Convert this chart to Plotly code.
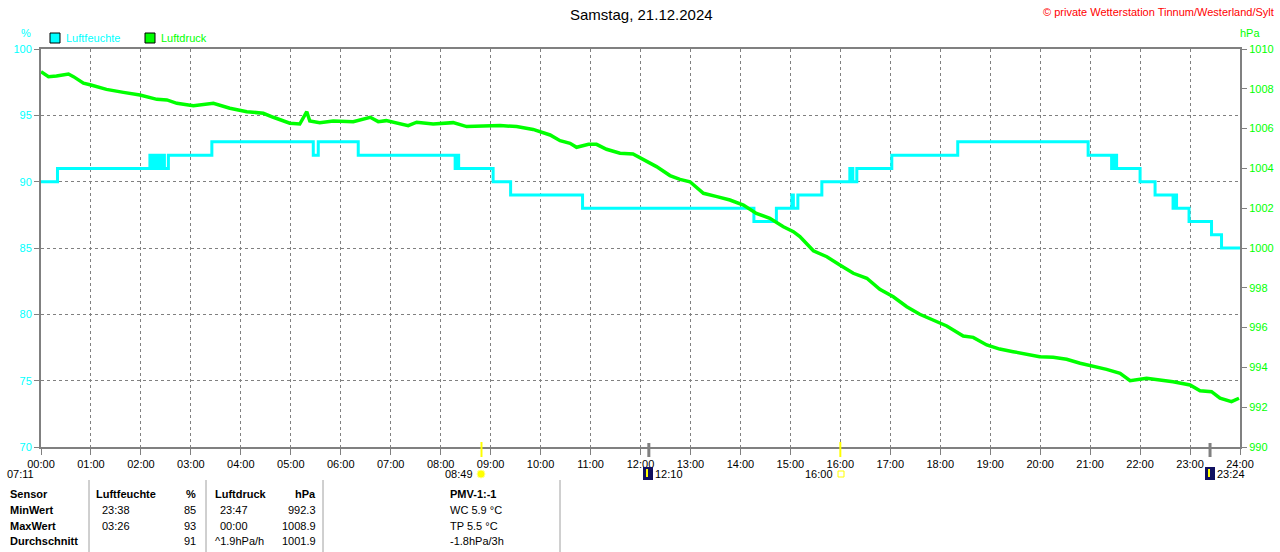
import plotly.graph_objects as go

# --- data ---
hum_hours = [0, 0.33, 2.18, 2.22, 2.26, 2.31, 2.35, 2.40, 2.44, 2.47, 2.55, 3.42, 5.45, 5.55,
             6.35, 8.29, 8.32, 8.36, 9.05, 9.40, 10.84, 14.27, 14.72, 15.03, 15.06, 15.15,
             15.63, 16.19, 16.25, 16.33, 17.03, 18.35, 20.96, 21.43, 21.47, 21.53, 22.00,
             22.30, 22.66, 22.70, 22.73, 22.98, 23.43, 23.63, 24.0]
hum_values = [90, 91, 92, 91, 92, 91, 92, 91, 92, 91, 92, 93, 92, 93,
              92, 91, 92, 91, 90, 89, 88, 87, 88, 89, 88, 89,
              90, 91, 90, 91, 92, 93, 92, 91, 92, 91, 90,
              89, 88, 89, 88, 87, 86, 85, 85]

press_hours = [0.0, 0.15, 0.31, 0.55, 0.65, 0.85, 1.0, 1.31, 1.65, 1.98, 2.32, 2.52, 2.72,
               3.05, 3.45, 3.78, 4.12, 4.45, 4.65, 4.98, 5.18, 5.32, 5.38, 5.58, 5.85,
               6.25, 6.59, 6.75, 6.91, 7.35, 7.52, 7.85, 8.25, 8.52, 8.85, 9.19, 9.52,
               9.85, 10.19, 10.39, 10.59, 10.72, 10.96, 11.12, 11.32, 11.59, 11.85, 12.05,
               12.32, 12.59, 12.79, 12.99, 13.26, 13.53, 13.79, 14.06, 14.32, 14.59,
               14.86, 15.06, 15.19, 15.46, 15.73, 15.99, 16.26, 16.53, 16.79, 17.06,
               17.33, 17.59, 17.86, 18.13, 18.46, 18.66, 18.93, 19.19, 19.46, 19.73,
               19.99, 20.26, 20.53, 20.80, 21.06, 21.33, 21.60, 21.80, 22.13, 22.40,
               22.66, 23.00, 23.20, 23.43, 23.60, 23.83, 23.98]
press_values = [1008.86, 1008.61, 1008.64, 1008.74, 1008.61, 1008.28, 1008.19, 1007.97, 1007.82,
                1007.69, 1007.47, 1007.44, 1007.27, 1007.15, 1007.27, 1007.02, 1006.85,
                1006.77, 1006.57, 1006.27, 1006.23, 1006.85, 1006.38, 1006.30, 1006.38,
                1006.35, 1006.57, 1006.35, 1006.40, 1006.15, 1006.32, 1006.23, 1006.30,
                1006.10, 1006.13, 1006.15, 1006.10, 1005.96, 1005.68, 1005.39, 1005.26,
                1005.06, 1005.21, 1005.21, 1004.96, 1004.76, 1004.72, 1004.46, 1004.09,
                1003.64, 1003.45, 1003.33, 1002.75, 1002.58, 1002.41, 1002.16, 1001.74,
                1001.49, 1001.07, 1000.82, 1000.57, 999.86, 999.56, 999.15, 998.73,
                998.48, 997.92, 997.55, 997.05, 996.67, 996.38, 996.08, 995.58, 995.51,
                995.13, 994.92, 994.79, 994.67, 994.54, 994.51, 994.41, 994.21, 994.07,
                993.90, 993.70, 993.33, 993.45, 993.37, 993.28, 993.12, 992.83, 992.78,
                992.45, 992.28, 992.45]

hour_labels = ["%02d:00" % h for h in range(25)]
hum_ticks = [70, 75, 80, 85, 90, 95, 100]
press_ticks = [990, 992, 994, 996, 998, 1000, 1002, 1004, 1006, 1008, 1010]

sun_events = [8.817, 16.0]        # yellow markers
moon_events = [12.167, 23.4]      # gray markers

table_rows = [
    ["Sensor", "Luftfeuchte", "%", "Luftdruck", "hPa", "PMV-1:-1"],
    ["MinWert", "23:38", "85", "23:47", "992.3", "WC 5.9 °C"],
    ["MaxWert", "03:26", "93", "00:00", "1008.9", "TP 5.5 °C"],
    ["Durchschnitt", "", "91", "^1.9hPa/h", "1001.9", "-1.8hPa/3h"],
]

CYAN = "#00FFFF"
GREEN = "#00FF00"
GRAY = "#808080"
FONT = "Liberation Sans"

# plot area in page pixels: x 41..1240, y 49..447
def px(x):
    return (x - 41) / 1199.0

def py(y):
    return (447 - y) / 398.0

fig = go.Figure()
fig.add_trace(go.Scatter(x=hum_hours, y=hum_values, mode="lines", line_shape="hv",
                         line=dict(color=CYAN, width=3), name="Luftfeuchte"))
fig.add_trace(go.Scatter(x=press_hours, y=press_values, mode="lines", yaxis="y2",
                         line=dict(color=GREEN, width=3.5), name="Luftdruck"))

shapes = []
annotations = []

def text(x, y, s, color="black", size=11, xanchor="left", bold=False):
    if bold:
        s = "<b>%s</b>" % s
    annotations.append(dict(x=px(x), y=py(y), xref="paper", yref="paper", text=s,
                            showarrow=False, xanchor=xanchor, yanchor="middle",
                            font=dict(family=FONT, size=size, color=color)))

# title, copyright, units
text(641, 15, "Samstag, 21.12.2024", size=15, xanchor="center")
text(1276, 12, "© private Wetterstation Tinnum/Westerland/Sylt", color="red", xanchor="right")
text(26, 33, "%", color=CYAN, xanchor="center")
text(1250, 33, "hPa", color=GREEN, xanchor="center")

# legend
for x0, col, label in [(50, CYAN, "Luftfeuchte"), (145, GREEN, "Luftdruck")]:
    shapes.append(dict(type="rect", xref="paper", yref="paper", x0=px(x0), x1=px(x0 + 10),
                       y0=py(43), y1=py(33), fillcolor=col, line=dict(color="black", width=1)))
    text(x0 + 14, 38, label, color=col)

# sun / moon markers on the time axis
for t in sun_events:
    shapes.append(dict(type="line", xref="x", yref="paper", x0=t, x1=t, y0=py(442), y1=py(457),
                       line=dict(color="#FFFF00", width=2)))
for t in moon_events:
    shapes.append(dict(type="line", xref="x", yref="paper", x0=t, x1=t, y0=py(443), y1=py(457),
                       line=dict(color=GRAY, width=3)))

# event labels below the axis
text(36, 474, "07:11", xanchor="right")
shapes.append(dict(type="path", xref="paper", yref="paper",
                   path="M %f %f A 1 1 0 0 1 %f %f Z" % (px(40), py(477), px(49), py(477)),
                   fillcolor="#FFFF00", line=dict(color="#FFFF00", width=1)))
text(475, 474, "08:49", xanchor="right")
shapes.append(dict(type="circle", xref="paper", yref="paper", x0=px(477), x1=px(485),
                   y0=py(478), y1=py(470), fillcolor="#FFFF00", line=dict(color="#FFFF99", width=1)))
text(835, 474, "16:00", xanchor="right")
shapes.append(dict(type="rect", xref="paper", yref="paper", x0=px(838), x1=px(844),
                   y0=py(477), y1=py(471), fillcolor="white", line=dict(color="#FFFF00", width=1)))
for x0, label in [(643, "12:10"), (1205, "23:24")]:
    shapes.append(dict(type="rect", xref="paper", yref="paper", x0=px(x0), x1=px(x0 + 10),
                       y0=py(480), y1=py(467), fillcolor="#101060", line=dict(width=0)))
    shapes.append(dict(type="line", xref="paper", yref="paper", x0=px(x0 + 4), x1=px(x0 + 4),
                       y0=py(477), y1=py(469), line=dict(color="#FFFF00", width=2)))
    text(x0 + 10, 474, label)

# table separators
for x in [89, 206, 323, 560]:
    shapes.append(dict(type="line", xref="paper", yref="paper", x0=px(x), x1=px(x),
                       y0=py(480), y1=py(552), line=dict(color="#A0A0A0", width=1)))

row_y = [494, 510, 526, 541]
for i, row in enumerate(table_rows):
    head = i == 0
    y = row_y[i]
    text(8, y, row[0], bold=True)
    text(94 if head else 100, y, row[1], bold=head)
    text(198, y, row[2], xanchor="right", bold=head)
    text(213 if (head or i == 3) else 218, y, row[3], bold=head)
    text(318, y, row[4], xanchor="right", bold=head)
    text(448, y, row[5], bold=head)

fig.update_layout(
    width=1280, height=552,
    margin=dict(l=41, r=40, t=49, b=105, autoexpand=False),
    paper_bgcolor="white", plot_bgcolor="white",
    showlegend=False,
    font=dict(family=FONT, size=11, color="black"),
    shapes=shapes, annotations=annotations,
    xaxis=dict(range=[0, 24], tickvals=list(range(25)), ticktext=hour_labels,
               showgrid=True, gridcolor=GRAY, griddash="3px,3px", gridwidth=1,
               showline=True, linecolor=GRAY, linewidth=2, mirror=True,
               ticks="outside", ticklen=6, tickcolor=GRAY, automargin=False,
               tickfont=dict(family=FONT, size=11, color="black"), zeroline=False),
    yaxis=dict(range=[70, 100], tickvals=hum_ticks,
               showgrid=True, gridcolor=GRAY, griddash="3px,3px", gridwidth=1,
               showline=True, linecolor=GRAY, linewidth=2, automargin=False,
               ticks="outside", ticklen=5, tickcolor=GRAY,
               tickfont=dict(family=FONT, size=11, color=CYAN), zeroline=False),
    yaxis2=dict(range=[990, 1010], tickvals=press_ticks, overlaying="y", side="right",
                showgrid=False, showline=True, linecolor=GRAY, linewidth=2, automargin=False,
                ticks="outside", ticklen=5, tickcolor=GRAY,
                tickfont=dict(family=FONT, size=11, color=GREEN), zeroline=False),
)

# drop the default body margin so the figure fills the 1280x552 window exactly
fig.write_html("out.html", config={"displayModeBar": False},
               post_script="document.body.style.margin='0';document.body.style.overflow='hidden';")
